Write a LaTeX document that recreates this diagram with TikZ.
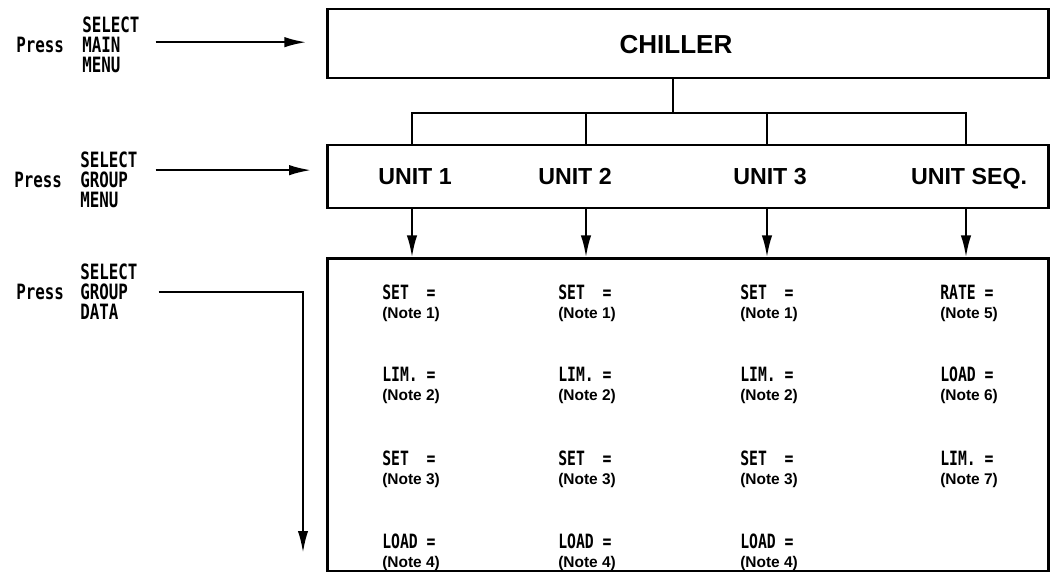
\documentclass[tikz,border=0pt]{standalone}
\usepackage{fontspec}
\setmainfont{Liberation Sans}
\newfontfamily\plotfont[FakeStretch=0.75]{DejaVu Sans Mono}
\usetikzlibrary{arrows.meta,positioning,calc}
\newcommand{\keyfont}{\plotfont\bfseries\fontsize{15}{14.2}\selectfont}
\newcommand{\valfont}{\plotfont\bfseries\fontsize{14}{14}\selectfont}

\begin{document}
\begin{tikzpicture}[
  x=0.025cm, y=-0.025cm,
  box/.style={rectangle,draw,line width=2.1pt,minimum width=18cm,inner sep=0pt},
  wire/.style={line width=1.7pt},
  arr/.style={-{Latex[length=5.5mm,width=2.6mm]},line width=1.7pt},
  menulbl/.style={font=\keyfont,align=left,inner sep=0pt,anchor=west},
  unitlbl/.style={font=\fontsize{16.5}{18}\selectfont\bfseries,inner sep=0pt,anchor=base},
  cell/.style={font=\fontsize{11}{13.2}\selectfont\bfseries,align=left,inner sep=0pt,anchor=north west}
]
\useasboundingbox (0,0) rectangle (1052,572);

% the three boxes
\node[box,minimum height=1.725cm] (chiller) at (688,43.5) {};
\node[unitlbl,font=\fontsize{18.5}{20}\selectfont\bfseries] (chillerlbl) at (676,53) {CHILLER};
\node[box,minimum height=1.575cm] (units) at (688,176.5) {};
\node[unitlbl] (u1) at (415,184) {UNIT 1};
\node[unitlbl] (u2) at (575,184) {UNIT 2};
\node[unitlbl] (u3) at (770,184) {UNIT 3};
\node[unitlbl] (u4) at (969,184) {UNIT SEQ.};
\node[box,minimum height=7.8cm] (data) at (688,415) {};

% bus from chiller to units
\coordinate (stem) at (673,113);
\coordinate (b1) at (412,113);
\coordinate (b2) at (586,113);
\coordinate (b3) at (767,113);
\coordinate (b4) at (966,113);
\draw[wire] (chiller.south -| stem) -- (stem);
\draw[wire] (b1 |- units.north) -- (b1) -- (b4) -- (b4 |- units.north);
\draw[wire] (b2) -- (b2 |- units.north);
\draw[wire] (b3) -- (b3 |- units.north);
\draw[arr] (units.south -| b1) -- (data.north -| b1);
\draw[arr] (units.south -| b2) -- (data.north -| b2);
\draw[arr] (units.south -| b3) -- (data.north -| b3);
\draw[arr] (units.south -| b4) -- (data.north -| b4);

% key presses
\node[menulbl] (press1) at (16,45) {Press};
\node[menulbl] (sel1) at (82,45) {SELECT\\MAIN\\MENU};
\node[menulbl] (press2) at (14,180) {Press};
\node[menulbl] (sel2) at (80,180) {SELECT\\GROUP\\MENU};
\node[menulbl] (press3) at (16,292) {Press};
\node[menulbl] (sel3) at (80,292) {SELECT\\GROUP\\DATA};
\coordinate (dropend) at (303,553);

\draw[arr,shorten <=0.4cm,shorten >=0.5cm] ([yshift=2pt]sel1.east) -- ([yshift=2pt]sel1.east -| chiller.west);
\draw[arr,shorten <=0.45cm,shorten >=0.38cm] ([yshift=7pt]sel2.east) -- ([yshift=7pt]sel2.east -| units.west);
\draw[arr,shorten <=0.52cm] (sel3.east) -| (dropend);

% group data
\node[cell] (c11) at (382,285) {{\valfont SET\ \ =}\\(Note 1)};
\node[cell] (c12) at (382,367) {{\valfont LIM.\ =}\\(Note 2)};
\node[cell] (c13) at (382,451) {{\valfont SET\ \ =}\\(Note 3)};
\node[cell] (c14) at (382,534) {{\valfont LOAD\ =}\\(Note 4)};
\node[cell] (c21) at (558,285) {{\valfont SET\ \ =}\\(Note 1)};
\node[cell] (c22) at (558,367) {{\valfont LIM.\ =}\\(Note 2)};
\node[cell] (c23) at (558,451) {{\valfont SET\ \ =}\\(Note 3)};
\node[cell] (c24) at (558,534) {{\valfont LOAD\ =}\\(Note 4)};
\node[cell] (c31) at (740,285) {{\valfont SET\ \ =}\\(Note 1)};
\node[cell] (c32) at (740,367) {{\valfont LIM.\ =}\\(Note 2)};
\node[cell] (c33) at (740,451) {{\valfont SET\ \ =}\\(Note 3)};
\node[cell] (c34) at (740,534) {{\valfont LOAD\ =}\\(Note 4)};
\node[cell] (c41) at (940,285) {{\valfont RATE\ =}\\(Note 5)};
\node[cell] (c42) at (940,367) {{\valfont LOAD\ =}\\(Note 6)};
\node[cell] (c43) at (940,451) {{\valfont LIM.\ =}\\(Note 7)};
\end{tikzpicture}
\end{document}
